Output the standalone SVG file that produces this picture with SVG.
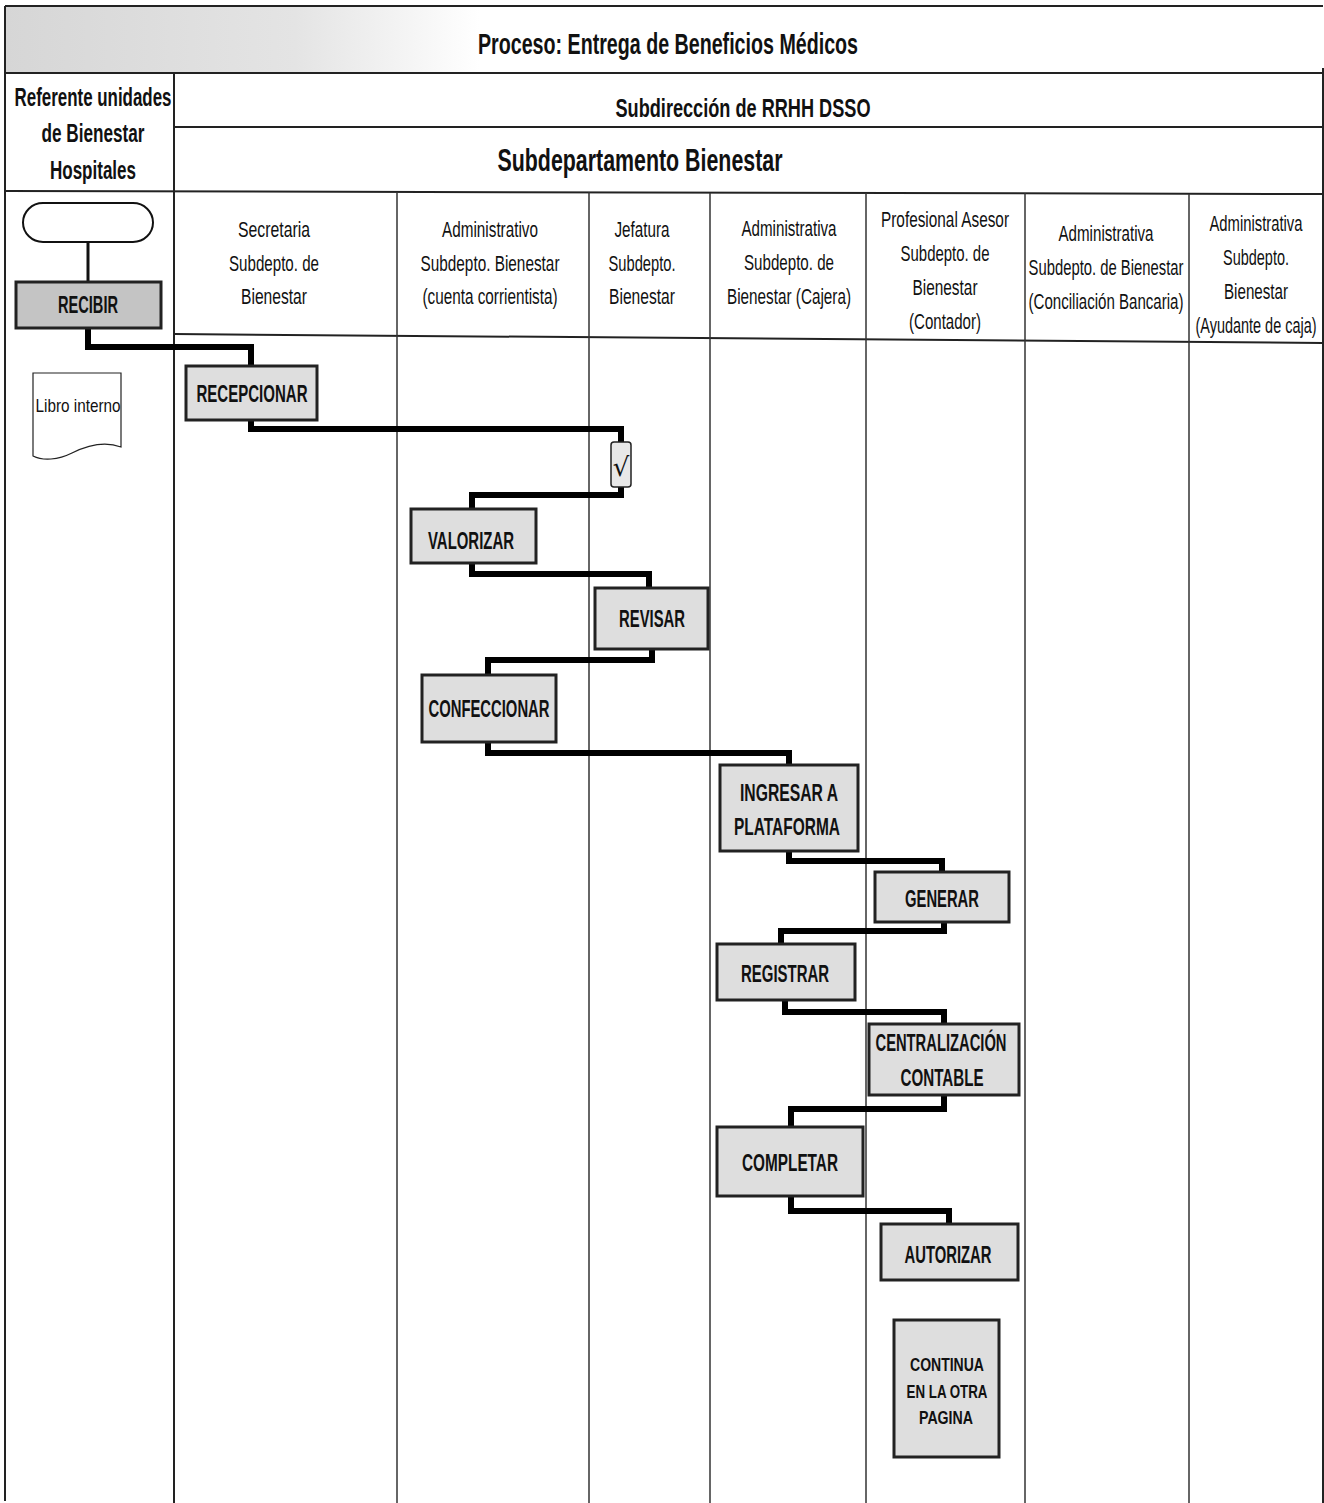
<svg xmlns="http://www.w3.org/2000/svg" width="1324" height="1503" viewBox="0 0 1324 1503">
<defs>
<linearGradient id="tg" x1="0" y1="0" x2="1" y2="0">
<stop offset="0" stop-color="#d6d6d6"/>
<stop offset="0.22" stop-color="#e4e4e4"/>
<stop offset="0.36" stop-color="#ffffff"/>
<stop offset="1" stop-color="#ffffff"/>
</linearGradient>
</defs>
<style>
text{font-family:"Liberation Sans Narrow","Liberation Sans",Arial,sans-serif;fill:#111;text-anchor:middle}
.grid{stroke:#222;stroke-width:2;fill:none}
.lane{stroke:#333;stroke-width:1.5;fill:none}
.hd{font-size:22px}
.big{font-weight:bold}
.box{fill:#dedede;stroke:#222;stroke-width:3}
.dark{fill:#c4c4c4}
.bl{font-size:24px;font-weight:bold}
.conn{stroke:#000;stroke-width:6;fill:none;stroke-linejoin:miter}
</style>
<rect x="0" y="0" width="1324" height="1503" fill="#fff"/>
<g id="frame">
<rect x="5" y="6" width="1318" height="67" fill="url(#tg)"/>
<line class="grid" x1="5" y1="6" x2="1323" y2="6"/>
<line class="grid" x1="5" y1="6" x2="5" y2="1501"/>
<line class="grid" x1="1323" y1="68" x2="1323" y2="1503"/>
<line class="grid" x1="5" y1="73" x2="1323" y2="73"/>
<line class="grid" x1="174" y1="127" x2="1323" y2="127"/>
<line class="grid" x1="5" y1="191" x2="1323" y2="194"/>
<line class="grid" x1="174" y1="73" x2="174" y2="1503"/>
<line class="grid" x1="174" y1="334" x2="1323" y2="343"/>
<line class="lane" x1="397" y1="192" x2="397" y2="1503"/>
<line class="lane" x1="589" y1="192" x2="589" y2="1503"/>
<line class="lane" x1="710" y1="193" x2="710" y2="1503"/>
<line class="lane" x1="866" y1="193" x2="866" y2="1503"/>
<line class="lane" x1="1025" y1="193" x2="1025" y2="1503"/>
<line class="lane" x1="1189" y1="194" x2="1189" y2="1503"/>
<text x="668" y="54" font-size="30" class="big" textLength="380" lengthAdjust="spacingAndGlyphs">Proceso: Entrega de Beneficios Médicos</text>
<text x="743" y="117" font-size="25" class="big" textLength="255" lengthAdjust="spacingAndGlyphs">Subdirección de RRHH DSSO</text>
<text x="640" y="171" font-size="32" class="big" textLength="285" lengthAdjust="spacingAndGlyphs">Subdepartamento  Bienestar</text>
<text x="93" y="106" font-size="25" class="big" textLength="157" lengthAdjust="spacingAndGlyphs">Referente unidades</text>
<text x="93" y="142" font-size="25" class="big" textLength="103" lengthAdjust="spacingAndGlyphs">de Bienestar</text>
<text x="93" y="179" font-size="25" class="big" textLength="86" lengthAdjust="spacingAndGlyphs">Hospitales</text>
</g>
<g id="lane-headers" class="hd">
<text transform="translate(274,237) scale(0.7,1)" textLength="102.9" lengthAdjust="spacingAndGlyphs">Secretaria</text>
<text transform="translate(274,271) scale(0.7,1)" textLength="128.6" lengthAdjust="spacingAndGlyphs">Subdepto. de</text>
<text transform="translate(274,304) scale(0.7,1)" textLength="94.3" lengthAdjust="spacingAndGlyphs">Bienestar</text>
<text transform="translate(490,237) scale(0.7,1)" textLength="137.1" lengthAdjust="spacingAndGlyphs">Administrativo</text>
<text transform="translate(490,271) scale(0.7,1)" textLength="198.6" lengthAdjust="spacingAndGlyphs">Subdepto. Bienestar</text>
<text transform="translate(490,304) scale(0.7,1)" textLength="192.9" lengthAdjust="spacingAndGlyphs">(cuenta corrientista)</text>
<text transform="translate(642,237) scale(0.7,1)" textLength="78.6" lengthAdjust="spacingAndGlyphs">Jefatura</text>
<text transform="translate(642,271) scale(0.7,1)" textLength="95.7" lengthAdjust="spacingAndGlyphs">Subdepto.</text>
<text transform="translate(642,304) scale(0.7,1)" textLength="94.3" lengthAdjust="spacingAndGlyphs">Bienestar</text>
<text transform="translate(789,236) scale(0.7,1)" textLength="135.7" lengthAdjust="spacingAndGlyphs">Administrativa</text>
<text transform="translate(789,270) scale(0.7,1)" textLength="128.6" lengthAdjust="spacingAndGlyphs">Subdepto. de</text>
<text transform="translate(789,304) scale(0.7,1)" textLength="177.1" lengthAdjust="spacingAndGlyphs">Bienestar (Cajera)</text>
<text transform="translate(945,227) scale(0.7,1)" textLength="182.9" lengthAdjust="spacingAndGlyphs">Profesional Asesor</text>
<text transform="translate(945,261) scale(0.7,1)" textLength="127.1" lengthAdjust="spacingAndGlyphs">Subdepto. de</text>
<text transform="translate(945,295) scale(0.7,1)" textLength="92.9" lengthAdjust="spacingAndGlyphs">Bienestar</text>
<text transform="translate(945,329) scale(0.7,1)" textLength="102.9" lengthAdjust="spacingAndGlyphs">(Contador)</text>
<text transform="translate(1106,241) scale(0.7,1)" textLength="135.7" lengthAdjust="spacingAndGlyphs">Administrativa</text>
<text transform="translate(1106,275) scale(0.7,1)" textLength="221.4" lengthAdjust="spacingAndGlyphs">Subdepto. de Bienestar</text>
<text transform="translate(1106,309) scale(0.7,1)" textLength="221.4" lengthAdjust="spacingAndGlyphs">(Conciliación Bancaria)</text>
<text transform="translate(1256,231) scale(0.7,1)" textLength="132.9" lengthAdjust="spacingAndGlyphs">Administrativa</text>
<text transform="translate(1256,265) scale(0.7,1)" textLength="94.3" lengthAdjust="spacingAndGlyphs">Subdepto.</text>
<text transform="translate(1256,299) scale(0.7,1)" textLength="91.4" lengthAdjust="spacingAndGlyphs">Bienestar</text>
<text transform="translate(1256,333) scale(0.7,1)" textLength="172.9" lengthAdjust="spacingAndGlyphs">(Ayudante de caja)</text>
</g>
<g id="connectors">
<line x1="88" y1="242" x2="88" y2="282" stroke="#111" stroke-width="3"/>
<polyline class="conn" points="88,328 88,347 251,347 251,366"/>
<polyline class="conn" points="251,420 251,429 621,429 621,442"/>
<polyline class="conn" points="621,487 621,495 472,495 472,509"/>
<polyline class="conn" points="472,563 472,574 649,574 649,588"/>
<polyline class="conn" points="652,649 652,660 488,660 488,675"/>
<polyline class="conn" points="488,742 488,753 789,753 789,765"/>
<polyline class="conn" points="789,851 789,861 942,861 942,872"/>
<polyline class="conn" points="944,922 944,931 781,931 781,944"/>
<polyline class="conn" points="785,1000 785,1012 944,1012 944,1024"/>
<polyline class="conn" points="944,1095 944,1109 791,1109 791,1127"/>
<polyline class="conn" points="791,1196 791,1211 949,1211 949,1224"/>
</g>
<g id="start">
<rect x="23" y="203" width="130" height="39" rx="20" ry="20" fill="#fff" stroke="#111" stroke-width="2"/>
</g>
<g id="recibir">
<rect class="box dark" x="16" y="282" width="145" height="46"/>
<text class="bl" x="88" y="313" textLength="60" lengthAdjust="spacingAndGlyphs">RECIBIR</text>
</g>
<g id="libro-interno">
<path d="M33,373 H121 V447 C105,441 88,445 72,453 C58,460 43,461 33,456 Z" fill="#fff" stroke="#222" stroke-width="1.2"/>
<text x="78" y="412" font-size="19" textLength="85" lengthAdjust="spacingAndGlyphs">Libro interno</text>
</g>
<g id="recepcionar">
<rect class="box" x="186" y="366" width="131" height="54"/>
<text class="bl" x="252" y="402" textLength="111" lengthAdjust="spacingAndGlyphs">RECEPCIONAR</text>
</g>
<g id="check">
<rect x="611" y="442" width="20" height="45" rx="3" fill="#e8e8e8" stroke="#222" stroke-width="1.5"/>
<text x="621" y="476" font-size="26" style="font-family:'DejaVu Sans',sans-serif">√</text>
</g>
<g id="valorizar">
<rect class="box" x="411" y="509" width="125" height="54"/>
<text class="bl" x="471" y="549" textLength="86" lengthAdjust="spacingAndGlyphs">VALORIZAR</text>
</g>
<g id="revisar">
<rect class="box" x="595" y="588" width="113" height="61"/>
<text class="bl" x="652" y="627" textLength="66" lengthAdjust="spacingAndGlyphs">REVISAR</text>
</g>
<g id="confeccionar">
<rect class="box" x="422" y="675" width="134" height="67"/>
<text class="bl" x="489" y="717" textLength="121" lengthAdjust="spacingAndGlyphs">CONFECCIONAR</text>
</g>
<g id="ingresar">
<rect class="box" x="720" y="765" width="138" height="86"/>
<text class="bl" x="789" y="801" textLength="98" lengthAdjust="spacingAndGlyphs">INGRESAR  A</text>
<text class="bl" x="787" y="835" textLength="106" lengthAdjust="spacingAndGlyphs">PLATAFORMA</text>
</g>
<g id="generar">
<rect class="box" x="875" y="872" width="134" height="50"/>
<text class="bl" x="942" y="907" textLength="74" lengthAdjust="spacingAndGlyphs">GENERAR</text>
</g>
<g id="registrar">
<rect class="box" x="717" y="944" width="138" height="56"/>
<text class="bl" x="785" y="982" textLength="88" lengthAdjust="spacingAndGlyphs">REGISTRAR</text>
</g>
<g id="centralizacion">
<rect class="box" x="869" y="1024" width="150" height="71"/>
<text class="bl" x="941" y="1051" textLength="131" lengthAdjust="spacingAndGlyphs">CENTRALIZACIÓN</text>
<text class="bl" x="942" y="1086" textLength="83" lengthAdjust="spacingAndGlyphs">CONTABLE</text>
</g>
<g id="completar">
<rect class="box" x="717" y="1127" width="146" height="69"/>
<text class="bl" x="790" y="1171" textLength="96" lengthAdjust="spacingAndGlyphs">COMPLETAR</text>
</g>
<g id="autorizar">
<rect class="box" x="881" y="1224" width="137" height="56"/>
<text class="bl" x="948" y="1263" textLength="87" lengthAdjust="spacingAndGlyphs">AUTORIZAR</text>
</g>
<g id="continua">
<rect class="box" x="894" y="1320" width="105" height="137"/>
<text x="947" y="1371" font-size="19" font-weight="bold" textLength="74" lengthAdjust="spacingAndGlyphs">CONTINUA</text>
<text x="947" y="1398" font-size="19" font-weight="bold" textLength="81" lengthAdjust="spacingAndGlyphs">EN LA OTRA</text>
<text x="946" y="1424" font-size="19" font-weight="bold" textLength="54" lengthAdjust="spacingAndGlyphs">PAGINA</text>
</g>
</svg>
